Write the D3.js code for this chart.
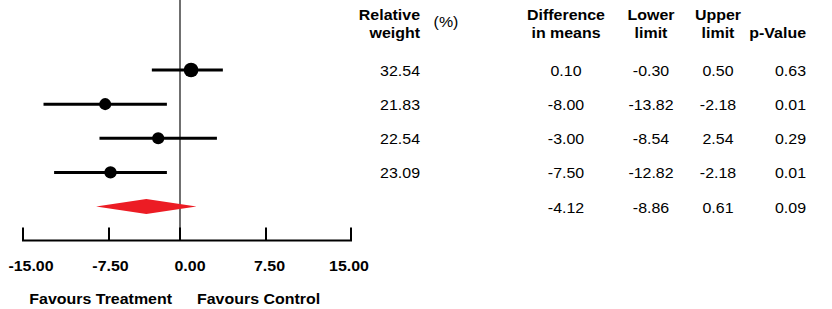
<!DOCTYPE html>
<html>
<head>
<meta charset="utf-8">
<script src="https://cdn.jsdelivr.net/npm/d3@7"></script>
<style>
  body { margin: 0; background: #fff; }
  svg { display: block; font-family: "Liberation Sans", Arial, sans-serif; }
</style>
</head>
<body>
<div id="chart"></div>
<script>
// Study rows (table values)
const weights = [32.54, 21.83, 22.54, 23.09];
const diffMeans = [0.10, -8.00, -3.00, -7.50];
const lowerLimits = [-0.30, -13.82, -8.54, -12.82];
const upperLimits = [0.50, -2.18, 2.54, -2.18];
const pValues = [0.63, 0.01, 0.29, 0.01];

// Whiskers as drawn in the plot (first study is drawn wider than its table CI)
const whiskerLow = [-3.6, -13.82, -8.54, -12.82];
const whiskerHigh = [3.1, -2.18, 2.54, -2.18];

// Pooled estimate
const summaryDiff = -4.12;
const summaryLower = -8.86;
const summaryUpper = 0.61;
const summaryP = 0.09;

const tickValues = [-15, -7.5, 0, 7.5, 15];
const favourLabels = ["Favours Treatment", "Favours Control"];

const width = 832, height = 309;
const FS = 14.5;        // font size
const SX = 1.1;         // horizontal stretch of the original image's text

const svg = d3.select("#chart").append("svg")
  .attr("width", width)
  .attr("height", height);

// data scale (labels + marks) and the tick-mark scale (ticks are drawn unevenly in the original)
const x = d3.scaleLinear().domain([-15, 15]).range([31, 349]);
const xTick = d3.scaleLinear().domain(tickValues).range([23, 109, 180, 266, 351]);
const y = d3.scalePoint().domain(d3.range(5)).range([70, 206.5]);
const r = d3.scaleSqrt().domain([0, 35]).range([0, 7.6]);

const axisY = 240.5;

function addText(g, px, py, str, anchor, bold) {
  return g.append("text")
    .attr("transform", `translate(${px},${py}) scale(${SX},1)`)
    .attr("text-anchor", anchor)
    .attr("font-size", FS)
    .attr("font-weight", bold ? "bold" : "normal")
    .attr("fill", "#000")
    .text(str);
}

// zero line
svg.append("line")
  .attr("x1", xTick(0)).attr("x2", xTick(0))
  .attr("y1", 0).attr("y2", axisY)
  .attr("stroke", "#222").attr("stroke-width", 1.3);

// axis line + ticks
svg.append("line")
  .attr("x1", xTick(-15) - 1).attr("x2", xTick(15) + 1)
  .attr("y1", axisY).attr("y2", axisY)
  .attr("stroke", "#000").attr("stroke-width", 2);

svg.append("g").selectAll("line")
  .data(tickValues)
  .join("line")
  .attr("x1", d => xTick(d)).attr("x2", d => xTick(d))
  .attr("y1", axisY - 13).attr("y2", axisY)
  .attr("stroke", "#000").attr("stroke-width", 2);

const labels = svg.append("g");
tickValues.forEach(v => addText(labels, x(v), 270.5, v.toFixed(2), "middle", true));

addText(labels, x(0) - 18, 304, favourLabels[0], "end", true);
addText(labels, x(0) + 7, 304, favourLabels[1], "start", true);

// CI whiskers
const studies = d3.range(weights.length);
svg.append("g").selectAll("line")
  .data(studies)
  .join("line")
  .attr("x1", i => x(whiskerLow[i])).attr("x2", i => x(whiskerHigh[i]))
  .attr("y1", i => y(i)).attr("y2", i => y(i))
  .attr("stroke", "#000").attr("stroke-width", 3);

// point estimates
svg.append("g").selectAll("circle")
  .data(studies)
  .join("circle")
  .attr("cx", i => x(diffMeans[i]))
  .attr("cy", i => y(i))
  .attr("r", i => r(weights[i]))
  .attr("fill", "#000");

// pooled diamond
const dy = y(4), dh = 7.5;
svg.append("path")
  .attr("d", `M${x(summaryLower)},${dy} L${x(summaryDiff)},${dy - dh} L${x(summaryUpper)},${dy} L${x(summaryDiff)},${dy + dh} Z`)
  .attr("fill", "#ec1c24");

// table
const table = svg.append("g");
const colWeight = 420, colDiff = 566, colLower = 651, colUpper = 718, colP = 806;

addText(table, colWeight, 20, "Relative", "end", true);
addText(table, colWeight, 37.5, "weight", "end", true);
addText(table, 446, 27, "(%)", "middle", false);
addText(table, colDiff, 20, "Difference", "middle", true);
addText(table, colDiff, 37.5, "in means", "middle", true);
addText(table, colLower, 20, "Lower", "middle", true);
addText(table, colLower, 37.5, "limit", "middle", true);
addText(table, colUpper, 20, "Upper", "middle", true);
addText(table, colUpper, 37.5, "limit", "middle", true);
addText(table, colP, 37.5, "p-Value", "end", true);

const off = 6;
studies.forEach(i => {
  const ty = y(i) + off;
  addText(table, colWeight, ty, weights[i].toFixed(2), "end", false);
  addText(table, colDiff, ty, diffMeans[i].toFixed(2), "middle", false);
  addText(table, colLower, ty, lowerLimits[i].toFixed(2), "middle", false);
  addText(table, colUpper, ty, upperLimits[i].toFixed(2), "middle", false);
  addText(table, colP, ty, pValues[i].toFixed(2), "end", false);
});
const sy = y(4) + off;
addText(table, colDiff, sy, summaryDiff.toFixed(2), "middle", false);
addText(table, colLower, sy, summaryLower.toFixed(2), "middle", false);
addText(table, colUpper, sy, summaryUpper.toFixed(2), "middle", false);
addText(table, colP, sy, summaryP.toFixed(2), "end", false);
</script>
</body>
</html>
